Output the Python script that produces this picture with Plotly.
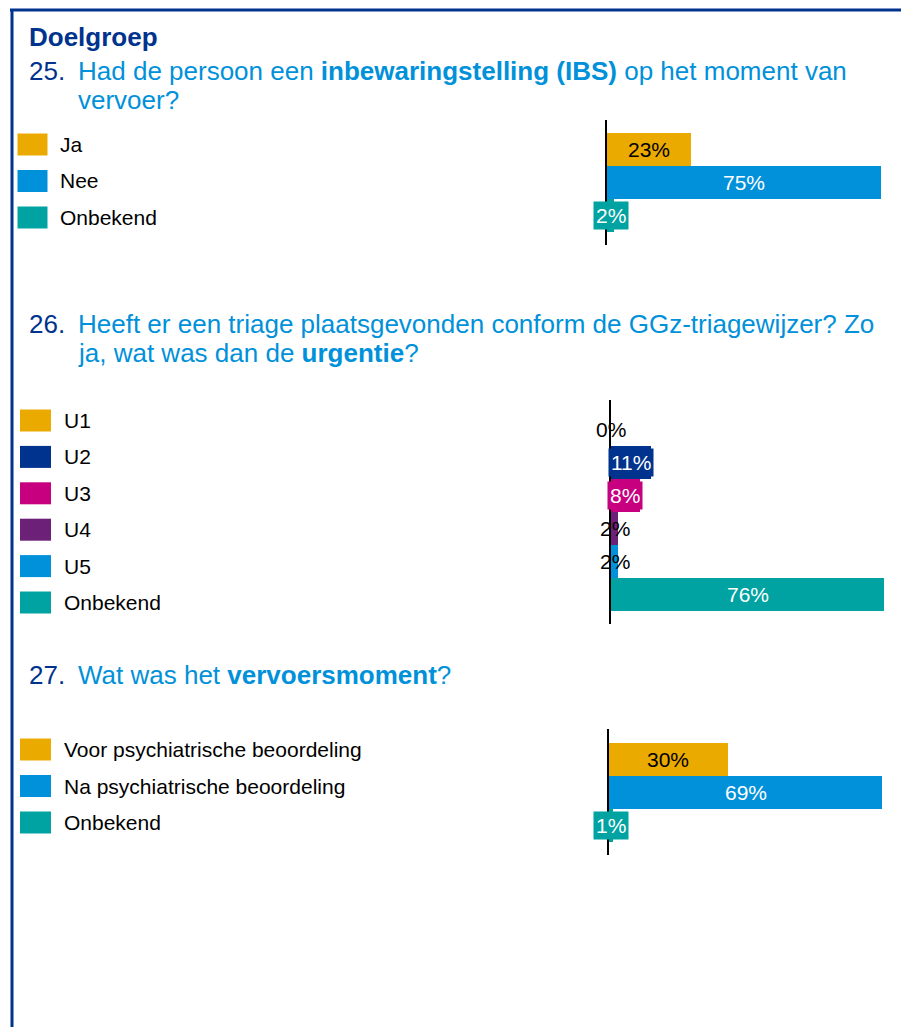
import plotly.graph_objects as go

# ---------------- data ----------------
Q25_CATS = ["Ja", "Nee", "Onbekend"]
Q25_VALS = [23, 75, 2]

Q26_CATS = ["U1", "U2", "U3", "U4", "U5", "Onbekend"]
Q26_VALS = [0, 11, 8, 2, 2, 76]

Q27_CATS = ["Voor psychiatrische beoordeling", "Na psychiatrische beoordeling", "Onbekend"]
Q27_VALS = [30, 69, 1]

SECTION_TITLE = "Doelgroep"
Q25_NUM = "25."
Q25_LINES = ["Had de persoon een <b>inbewaringstelling (IBS)</b> op het moment van", "vervoer?"]
Q26_NUM = "26."
Q26_LINES = ["Heeft er een triage plaatsgevonden conform de GGz-triagewijzer? Zo",
             "ja, wat was dan de <b>urgentie</b>?"]
Q27_NUM = "27."
Q27_LINES = ["Wat was het <b>vervoersmoment</b>?"]

# ---------------- styles ----------------
ORANGE = "#EAAA00"
LBLUE = "#0091DA"
TEAL = "#00A3A1"
DBLUE = "#00338D"
MAG = "#C6007E"
PURP = "#6D2077"
FONT = "Liberation Sans, Arial, sans-serif"

W, H = 893, 1019
OFF = 8


def px(x):
    return (x - OFF) / W


def py(y):
    return 1 - (y - OFF) / H


BAND = 33.0
RIGHT = 890

charts = [
    dict(cats=Q25_CATS, vals=Q25_VALS, num=Q25_NUM, lines=Q25_LINES, line_y=[71, 100],
         colors=[ORANGE, LBLUE, TEAL], styles=["in", "in", "box"],
         left=607, scale=3.653, dom=(119.5, 245), leg0=144.5, legstep=36.5,
         sw=(17.5, 47.5), tx=58),
    dict(cats=Q26_CATS, vals=Q26_VALS, num=Q26_NUM, lines=Q26_LINES, line_y=[324, 353],
         colors=[ORANGE, DBLUE, MAG, PURP, LBLUE, TEAL],
         styles=["plain", "box", "box", "plain", "plain", "in"],
         left=611, scale=3.592, dom=(400, 623.5), leg0=420.5, legstep=36.4,
         sw=(20, 51), tx=62),
    dict(cats=Q27_CATS, vals=Q27_VALS, num=Q27_NUM, lines=Q27_LINES, line_y=[675],
         colors=[ORANGE, LBLUE, TEAL], styles=["in", "in", "box"],
         left=609, scale=3.957, dom=(729, 855), leg0=749.5, legstep=36.5,
         sw=(20, 51), tx=62),
]

fig = go.Figure()
annotations = []
shapes = []

# border
shapes.append(dict(type="line", xref="paper", yref="paper", x0=px(10), x1=px(920),
                   y0=py(10), y1=py(10), line=dict(color=DBLUE, width=3)))
shapes.append(dict(type="line", xref="paper", yref="paper", x0=px(12), x1=px(12),
                   y0=py(9), y1=py(1040), line=dict(color=DBLUE, width=3)))

annotations.append(dict(xref="paper", yref="paper", x=px(27), y=py(37), xanchor="left",
                        yanchor="middle", showarrow=False,
                        text="<b>" + SECTION_TITLE + "</b>",
                        font=dict(family=FONT, size=26, color=DBLUE)))

for i, c in enumerate(charts):
    k = "" if i == 0 else str(i + 1)
    n = len(c["cats"])
    top, bot = c["dom"]
    pad = ((bot - top) - n * BAND) / 2 / BAND + 0.5
    xr = (RIGHT - c["left"]) / c["scale"]

    fig.add_trace(go.Bar(
        x=c["vals"], y=c["cats"], orientation="h",
        marker=dict(color=c["colors"], line=dict(width=0)),
        xaxis="x" + k, yaxis="y" + k, showlegend=False, hoverinfo="x+y",
    ))

    fig.layout["xaxis" + k] = dict(domain=[px(c["left"]), px(RIGHT)], range=[0, xr],
                                   anchor="y" + k, visible=False, fixedrange=True)
    fig.layout["yaxis" + k] = dict(domain=[py(bot), py(top)], range=[n - 1 + pad, -pad],
                                   anchor="x" + k, type="category",
                                   categoryorder="array", categoryarray=c["cats"],
                                   showline=True, linecolor="black", linewidth=2,
                                   showticklabels=False, showgrid=False, zeroline=False,
                                   ticks="", fixedrange=True)

    # question number and text
    annotations.append(dict(xref="paper", yref="paper", x=px(27), y=py(c["line_y"][0]),
                            xanchor="left", yanchor="middle", showarrow=False,
                            text=c["num"], font=dict(family=FONT, size=26, color=DBLUE)))
    for ln, ly in zip(c["lines"], c["line_y"]):
        annotations.append(dict(xref="paper", yref="paper", x=px(76), y=py(ly),
                                xanchor="left", yanchor="middle", showarrow=False,
                                text=ln, font=dict(family=FONT, size=26, color=LBLUE)))

    # legend swatches + labels
    for j, (cat, col) in enumerate(zip(c["cats"], c["colors"])):
        cy = c["leg0"] + j * c["legstep"]
        shapes.append(dict(type="rect", xref="paper", yref="paper",
                           x0=px(c["sw"][0]), x1=px(c["sw"][1]),
                           y0=py(cy + 11), y1=py(cy - 11),
                           fillcolor=col, line=dict(width=0)))
        annotations.append(dict(xref="paper", yref="paper", x=px(c["tx"]), y=py(cy),
                                xanchor="left", yanchor="middle", showarrow=False,
                                text=cat, font=dict(family=FONT, size=21, color="black")))

    # data labels
    for cat, v, col, st in zip(c["cats"], c["vals"], c["colors"], c["styles"]):
        a = dict(xref="x" + k, yref="y" + k, x=v / 2, y=cat, xanchor="center",
                 yanchor="middle", showarrow=False, text=f"{v}%")
        if st == "in":
            fc = "black" if col == ORANGE else "white"
            a["font"] = dict(family=FONT, size=21, color=fc)
        elif st == "box":
            a["font"] = dict(family=FONT, size=21, color="white")
            a["bgcolor"] = col
            a["borderpad"] = 2
        else:
            a["font"] = dict(family=FONT, size=21, color="black")
        annotations.append(a)

fig.update_layout(
    width=W, height=H,
    margin=dict(l=0, r=0, t=0, b=0),
    paper_bgcolor="white", plot_bgcolor="rgba(0,0,0,0)",
    bargap=0,
    annotations=annotations, shapes=shapes,
    showlegend=False,
)

fig.write_html("out.html")
